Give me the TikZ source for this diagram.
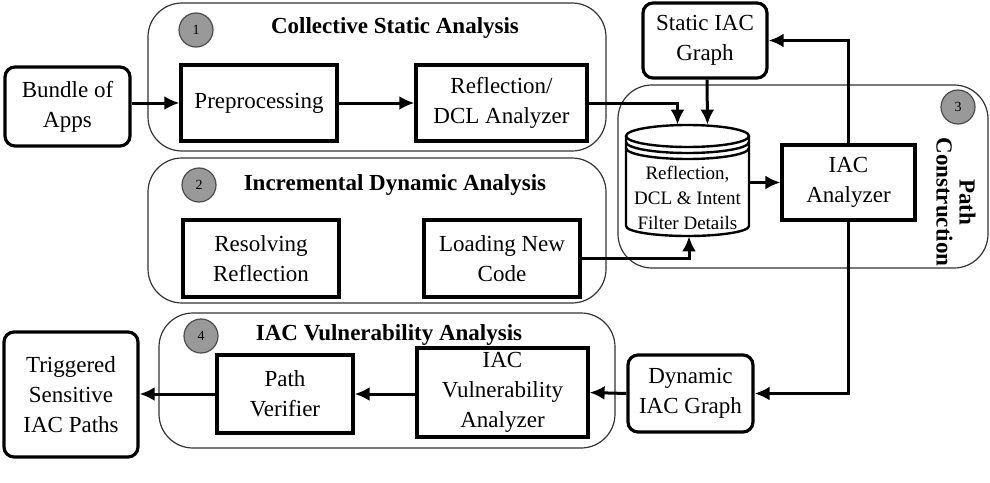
\documentclass[tikz,border=0pt]{standalone}
\usepackage{fontspec}
\setmainfont{Liberation Serif}
\usetikzlibrary{arrows.meta,calc}
\tikzset{
  grp/.style={draw=black!80, line width=0.6pt, rounded corners=17pt},
  box/.style={draw, line width=1.6pt, align=center, inner sep=0pt,
    font=\rmfamily\fontsize{11.5}{15}\selectfont},
  rbox/.style={box, rounded corners=5pt},
  num/.style={circle, draw=black!70, line width=0.6pt, fill=black!40,
    minimum size=17pt, inner sep=0pt, font=\fontsize{7}{8}\selectfont},
  ttl/.style={font=\bfseries\fontsize{11.5}{12}\selectfont, inner sep=0pt},
  arr/.style={draw, line width=1.5pt, -{Latex[length=7.5pt,width=7pt]}},
  cyl/.style={line width=1.2pt},
}
\begin{document}
\begin{tikzpicture}[x=0.5pt,y=-0.5pt]
\useasboundingbox (0,0) rectangle (990,482);
% groups
\draw[grp] (148,3) rectangle (606,151);
\draw[grp] (148,158) rectangle (606,303);
\draw[grp] (618,85) rectangle (988,268);
\draw[grp] (159,313) rectangle (615,448);
% numbers and titles
\node[num] (n1) at (196,30) {1};
\node[num] (n2) at (199,185) {2};
\node[num] (n3) at (958,107) {3};
\node[num] (n4) at (201,336) {4};
\node[ttl] (t1) at (395,28) {Collective Static Analysis};
\node[ttl] (t2) at (395,185) {Incremental Dynamic Analysis};
\node[ttl] (t4) at (389,335) {IAC Vulnerability Analysis};
\node[ttl, rotate=-90, align=center, font=\bfseries\fontsize{11.5}{11.5}\selectfont] (t3) at (956,202) {Path\\Construction};
% boxes
\node[rbox, minimum width=62.5pt, minimum height=39.5pt] (bundle) at (67.5,106.5) {Bundle of\\Apps};
\node[box, minimum width=78pt, minimum height=38pt] (prep) at (259,103) {Preprocessing};
\node[box, minimum width=85.5pt, minimum height=38pt] (refl) at (501.5,103) {Reflection/\\DCL Analyzer};
\node[box, minimum width=78pt, minimum height=38.5pt] (res) at (261,258.5) {Resolving\\Reflection};
\node[box, minimum width=78pt, minimum height=38.5pt] (load) at (502,258.5) {Loading New\\Code};
\node[rbox, minimum width=62pt, minimum height=37.5pt] (sg) at (705,40.5) {Static IAC\\Graph};
\node[box, minimum width=66.5pt, minimum height=37.5pt] (iac) at (848.5,182.5) {IAC\\Analyzer};
\node[rbox, minimum width=62.5pt, minimum height=38.5pt] (dyn) at (690.5,393.5) {Dynamic\\IAC Graph};
\node[box, minimum width=85.5pt, minimum height=44.5pt] (vuln) at (502.5,392.5) {IAC\\Vulnerability\\Analyzer};
\node[box, minimum width=68pt, minimum height=39pt] (pv) at (285,394) {Path\\Verifier};
\node[rbox, minimum width=67pt, minimum height=62.5pt] (trig) at (71,394.5) {Triggered\\Sensitive\\IAC Paths};
% database cylinder
\node[minimum width=61.5pt, minimum height=55.5pt, inner sep=0pt] (db) at (687.5,180.5) {};
\fill[white] (626,136) -- (626,226) arc[start angle=180,end angle=360,x radius=30.75pt,y radius=5pt] -- (749,136) arc[start angle=0,end angle=180,x radius=30.75pt,y radius=5.5pt] -- cycle;
\draw[cyl] (687.5,136) ellipse [x radius=30.75pt, y radius=5.5pt];
\draw[cyl] (626,142) arc[start angle=180,end angle=360,x radius=30.75pt,y radius=5.5pt];
\draw[cyl] (626,148) arc[start angle=180,end angle=360,x radius=30.75pt,y radius=5.5pt];
\draw[cyl] (626,136) -- (626,226) arc[start angle=180,end angle=360,x radius=30.75pt,y radius=5pt] -- (749,136);
\node[align=center, inner sep=0pt, font=\rmfamily\fontsize{9.5}{12.5}\selectfont] (dbtext) at (687.5,198) {Reflection,\\DCL \& Intent\\Filter Details};
% connectors
\draw[arr] (bundle.east |- prep.west) -- (prep.west);
\draw[arr] (prep) -- (refl);
\draw[arr] (refl.east) -| ([xshift=-5pt]db.north);
\draw[arr] (sg.south -| 707,0) -- ([xshift=10pt]db.north);
\draw[arr] (load.east) -| ([xshift=0.75pt]db.south);
\draw[arr] (db.east |- iac.west) -- (iac.west);
\draw[arr] (iac.north) |- (sg.east);
\draw[arr] (iac.south) |- (dyn.east);
\draw[arr] (dyn.west) -- (vuln.west -| vuln.east);
\draw[arr] (vuln.west |- pv.east) -- (pv.east);
\draw[arr] (pv.west) -- (trig.east |- pv.west);
\end{tikzpicture}
\end{document}
